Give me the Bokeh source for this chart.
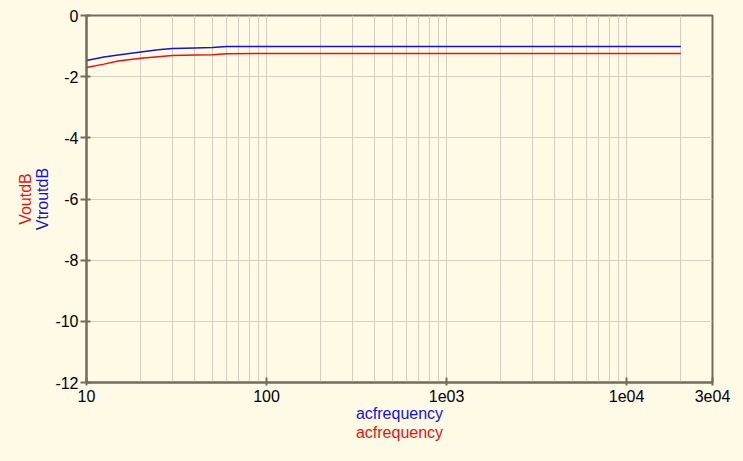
from bokeh.plotting import figure
from bokeh.models import FixedTicker, LogAxis, LinearAxis, CustomJSTickFormatter
from bokeh.embed import file_html
from bokeh.resources import INLINE

# ---- data ----
freq = [10, 12.5, 15, 20, 25, 30, 40, 50, 60, 100, 1000, 10000, 20000]
vtroutdb = [-1.47, -1.36, -1.29, -1.19, -1.12, -1.08, -1.06, -1.05, -1.01, -1.01, -1.01, -1.01, -1.01]
voutdb = [-1.70, -1.59, -1.49, -1.40, -1.35, -1.31, -1.29, -1.28, -1.25, -1.24, -1.24, -1.24, -1.24]

x_ticks = [10, 100, 1000, 10000, 30000]
x_tick_labels = ["10", "100", "1e03", "1e04", "3e04"]
x_minor = [20, 30, 40, 50, 60, 70, 80, 90,
           200, 300, 400, 500, 600, 700, 800, 900,
           2000, 3000, 4000, 5000, 6000, 7000, 8000, 9000,
           20000]
y_ticks = [-12, -10, -8, -6, -4, -2, 0]

bg = "#FFFAE6"
gridc = "#D2CEC0"
axc = "#726C5E"
blue = "#1414D2"
red = "#E41414"
font = "Liberation Sans"
fs = "16px"

p = figure(width=743, height=461, x_axis_type="log", x_range=(10, 30000), y_range=(-12, 0),
           output_backend="svg", toolbar_location=None,
           min_border_left=86, min_border_right=31, min_border_top=15, min_border_bottom=79,
           background_fill_color=bg, border_fill_color=bg)

p.outline_line_color = axc
p.outline_line_width = 2

xa = p.xaxis[0]
xa.ticker = FixedTicker(ticks=x_ticks, minor_ticks=x_minor)
xa.formatter = CustomJSTickFormatter(args=dict(t=x_ticks, l=x_tick_labels),
                                     code="const i = t.indexOf(tick); return i >= 0 ? l[i] : '';")
xa.axis_label = "acfrequency"
xa.axis_label_text_color = blue
xa.axis_label_text_font = font
xa.axis_label_text_font_size = fs
xa.axis_label_text_font_style = "normal"
xa.axis_label_standoff = 0
xa.major_label_text_font = font
xa.major_label_text_font_size = fs
xa.major_label_text_color = "black"
xa.major_label_standoff = 3
xa.axis_line_color = axc
xa.axis_line_width = 2
xa.major_tick_line_color = axc
xa.major_tick_line_width = 2
xa.major_tick_in = 5
xa.major_tick_out = 3
xa.minor_tick_line_color = None

ya = p.yaxis[0]
ya.ticker = FixedTicker(ticks=y_ticks)
ya.formatter = CustomJSTickFormatter(code="return String(tick);")
ya.axis_label = "VtroutdB"
ya.axis_label_text_color = blue
ya.axis_label_text_font = font
ya.axis_label_text_font_size = fs
ya.axis_label_text_font_style = "normal"
ya.axis_label_standoff = 1
ya.major_label_text_font = font
ya.major_label_text_font_size = fs
ya.major_label_text_color = "black"
ya.major_label_standoff = 2
ya.axis_line_color = axc
ya.axis_line_width = 2
ya.major_tick_line_color = axc
ya.major_tick_line_width = 2
ya.major_tick_in = 4
ya.major_tick_out = 6
ya.minor_tick_line_color = None

ya2 = LinearAxis(axis_label="VoutdB", ticker=FixedTicker(ticks=[]),
                 axis_line_color=None, major_tick_line_color=None, minor_tick_line_color=None,
                 axis_label_text_color=red, axis_label_text_font=font,
                 axis_label_text_font_size=fs, axis_label_text_font_style="normal",
                 axis_label_standoff=-2)
p.add_layout(ya2, "left")

xa2 = LogAxis(axis_label="acfrequency", ticker=FixedTicker(ticks=[]),
              axis_line_color=None, major_tick_line_color=None, minor_tick_line_color=None,
              axis_label_text_color=red, axis_label_text_font=font,
              axis_label_text_font_size=fs, axis_label_text_font_style="normal",
              axis_label_standoff=-1)
p.add_layout(xa2, "below")

p.xgrid.grid_line_color = gridc
p.xgrid.grid_line_width = 1
p.xgrid.minor_grid_line_color = gridc
p.xgrid.minor_grid_line_width = 1
p.ygrid.grid_line_color = gridc
p.ygrid.grid_line_width = 1

p.line(freq, vtroutdb, line_color=blue, line_width=1.5)
p.line(freq, voutdb, line_color=red, line_width=1.5)

html = file_html(p, INLINE)
html = html.replace("<head>", "<head><style>html,body{background:%s;}</style>" % bg, 1)
open("out.html", "w").write(html)
